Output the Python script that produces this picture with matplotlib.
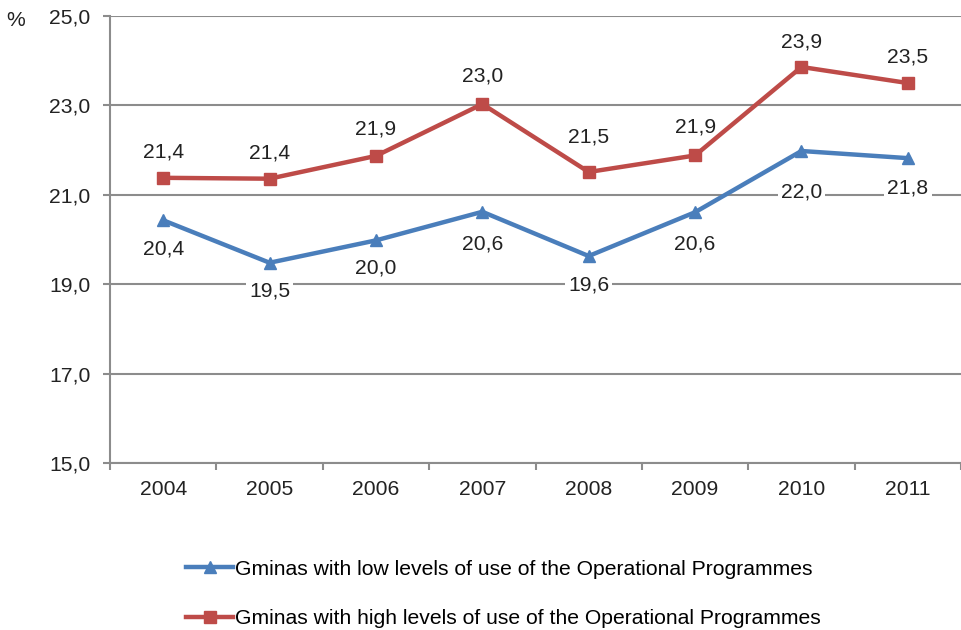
import matplotlib
matplotlib.use("Agg")
import matplotlib.pyplot as plt

plt.rcParams['font.family'] = ['Liberation Sans', 'DejaVu Sans']

years = ["2004", "2005", "2006", "2007", "2008", "2009", "2010", "2011"]
low_use = [20.43, 19.48, 19.98, 20.62, 19.63, 20.61, 21.98, 21.82]
high_use = [21.38, 21.36, 21.87, 23.03, 21.51, 21.88, 23.86, 23.50]
low_labels = ["20,4", "19,5", "20,0", "20,6", "19,6", "20,6", "22,0", "21,8"]
high_labels = ["21,4", "21,4", "21,9", "23,0", "21,5", "21,9", "23,9", "23,5"]
low_name = "Gminas with low levels of use of the Operational Programmes"
high_name = "Gminas with high levels of use of the Operational Programmes"
yticks = [15.0, 17.0, 19.0, 21.0, 23.0, 25.0]

# label offsets in pixels (style/placement only)
low_off_px = [29, 28, 28, 32, 29, 32, 41, 30]
high_off_px = [26, 26, 27, 28, 35, 28, 25, 26]

blue = "#4a7ebb"
red = "#be4b48"
grid = "#8c8c8c"
txt = "#222222"
fs = 15.2

fig = plt.figure(figsize=(9.61, 6.30), dpi=100)
ax = fig.add_axes([110/961, 1-463/630, 1-110/961, (463-16)/630])

x = list(range(len(years)))
l1, = ax.plot(x, low_use, color=blue, lw=3.2, marker='^', ms=9, label=low_name, zorder=4)
l2, = ax.plot(x, high_use, color=red, lw=3.2, marker='s', ms=8, label=high_name, zorder=4)

for xi, v, t, o in zip(x, low_use, low_labels, low_off_px):
    ax.annotate(t, (xi, v), xytext=(0, -o * 0.72), textcoords='offset points', ha='center', va='center',
                fontsize=fs, color=txt, zorder=5,
                bbox=dict(boxstyle='square,pad=0.15', fc='white', ec='none'))
for xi, v, t, o in zip(x, high_use, high_labels, high_off_px):
    ax.annotate(t, (xi, v), xytext=(0, o * 0.72), textcoords='offset points', ha='center', va='center',
                fontsize=fs, color=txt, zorder=5)

ax.set_xlim(-0.5, len(years) - 0.5)
ax.set_ylim(15, 25)
ax.set_yticks(yticks)
ax.set_yticklabels([f"{v:.1f}".replace('.', ',') for v in yticks], fontsize=fs, color=txt)
ax.set_xticks(x)
ax.set_xticklabels(years, fontsize=fs, color=txt)
ax.set_xticks([i + 0.5 for i in range(-1, len(years))], minor=True)
ax.tick_params(axis='x', which='major', length=0, pad=12)
ax.tick_params(axis='x', which='minor', length=5, color=grid, width=1.5)
ax.tick_params(axis='y', length=5, color=grid, width=1.5, pad=9)
ax.grid(axis='y', color=grid, lw=1.5, zorder=0)
ax.set_axisbelow(True)
for s in ['top', 'right']:
    ax.spines[s].set_visible(False)
for s in ['left', 'bottom']:
    ax.spines[s].set_color(grid)
    ax.spines[s].set_linewidth(1.5)

fig.text(16/961, 1-20/630, "%", fontsize=fs, color=txt, ha='center', va='center')

fig.legend(handles=[l1, l2], loc='center left', bbox_to_anchor=(178/961, 1-594/630),
           frameon=False, fontsize=fs, handlelength=2.2, handletextpad=0.1,
           labelspacing=1.45, borderaxespad=0)

fig.savefig("out.png", dpi=100)
